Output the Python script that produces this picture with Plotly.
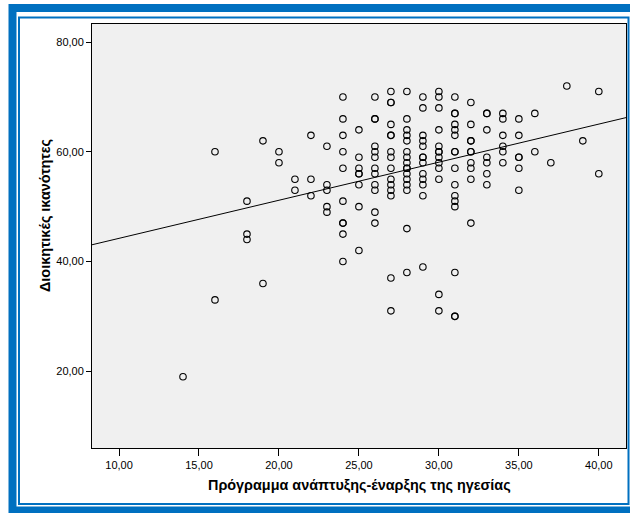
import numpy as np
import plotly.graph_objects as go

# ---- data ----
leadership_x = (
    [14] + [16]*2 + [18]*3 + [19]*2 + [20]*2 + [21]*2 + [22]*3 + [23]*5 +
    [24]*10 + [25]*8 + [26]*12 + [27]*15 + [28]*16 + [29]*13 + [30]*13 +
    [31]*16 + [32]*10 + [33]*7 + [34]*6 + [35]*6 + [36]*2 + [37] + [38] + [39] + [40]*2
)
management_y = (
    [19] +
    [60, 33] +
    [51, 45, 44] +
    [62, 36] +
    [60, 58] +
    [55, 53] +
    [63, 55, 52] +
    [61, 54, 53, 50, 49] +
    [70, 66, 63, 60, 57, 51, 47, 47, 45, 40] +
    [64, 59, 57, 56, 56, 54, 50, 42] +
    [70, 66, 66, 61, 60, 59, 57, 56, 54, 53, 49, 47] +
    [71, 69, 69, 65, 63, 63, 60, 59, 57, 55, 54, 53, 52, 37, 31] +
    [71, 66, 64, 63, 62, 60, 59, 58, 57, 57, 56, 55, 54, 53, 46, 38] +
    [70, 68, 63, 62, 61, 59, 59, 58, 56, 55, 54, 52, 39] +
    [71, 70, 68, 64, 61, 60, 60, 59, 58, 57, 55, 34, 31] +
    [70, 67, 67, 65, 64, 63, 60, 60, 57, 54, 52, 51, 50, 38, 30, 30] +
    [69, 65, 62, 62, 60, 60, 58, 57, 55, 47] +
    [67, 67, 64, 59, 58, 56, 54] +
    [67, 66, 63, 61, 60, 58] +
    [66, 63, 59, 59, 57, 53] +
    [67, 60] +
    [58] +
    [72] +
    [62] +
    [71, 56]
)
x_tick_vals = [10, 15, 20, 25, 30, 35, 40]
x_tick_text = ["10,00", "15,00", "20,00", "25,00", "30,00", "35,00", "40,00"]
y_tick_vals = [20, 40, 60, 80]
y_tick_text = ["20,00", "40,00", "60,00", "80,00"]
x_title = "Πρόγραμμα ανάπτυξης-έναρξης της ηγεσίας"
y_title = "Διοικητικές ικανότητες"

x_range = [8.31, 41.7]
y_range = [6.0, 83.3]

# linear fit
slope, intercept = np.polyfit(np.array(leadership_x, float), np.array(management_y, float), 1)
line_x = np.array(x_range)
line_y = intercept + slope * line_x

W, H = 630, 513
L, R, T, B = 92, 4, 24, 65
pw, ph = W - L - R, H - T - B

def px(xp):
    return (xp - L) / pw

def py(yp):
    return (H - B - yp) / ph

fig = go.Figure()
fig.add_trace(go.Scatter(
    x=line_x, y=line_y, mode="lines",
    line=dict(color="black", width=1), hoverinfo="skip", showlegend=False))
fig.add_trace(go.Scatter(
    x=leadership_x, y=management_y, mode="markers",
    marker=dict(symbol="circle-open", size=6.5, color="black", line=dict(width=1.1, color="black")),
    showlegend=False))

axis_font = dict(family="Liberation Sans, Arial, sans-serif", size=11, color="black")
fig.update_xaxes(range=x_range, tickvals=x_tick_vals, ticktext=x_tick_text,
                 ticks="outside", ticklen=7, tickwidth=1, tickcolor="black",
                 showline=True, linecolor="black", linewidth=1, mirror=True,
                 showgrid=False, zeroline=False, tickfont=axis_font)
fig.update_yaxes(range=y_range, tickvals=y_tick_vals, ticktext=y_tick_text,
                 ticks="outside", ticklen=5, tickwidth=1, tickcolor="black",
                 showline=True, linecolor="black", linewidth=1, mirror=True,
                 showgrid=False, zeroline=False, tickfont=axis_font)

title_font = dict(family="Liberation Sans, Arial, sans-serif", size=14.4, color="black")
annotations = [
    dict(text="<b>" + x_title + "</b>", xref="paper", yref="paper",
         x=px(359), y=py(485), xanchor="center", yanchor="middle",
         showarrow=False, font=title_font),
    dict(text="<b>" + y_title + "</b>", xref="paper", yref="paper",
         x=px(45), y=py(215), xanchor="center", yanchor="middle", textangle=-90,
         showarrow=False, font=title_font),
]

blue = "#0070C0"
shapes = [
    # thick outer frame
    dict(type="rect", xref="paper", yref="paper",
         x0=px(12.5), x1=px(640), y0=py(8), y1=py(510.5),
         line=dict(color=blue, width=8), fillcolor="rgba(0,0,0,0)", layer="above"),
    # thin inner frame
    dict(type="rect", xref="paper", yref="paper",
         x0=px(19), x1=px(628.5), y0=py(17.5), y1=py(504),
         line=dict(color=blue, width=2), fillcolor="rgba(0,0,0,0)", layer="above"),
]

fig.update_layout(
    width=W, height=H, margin=dict(l=L, r=R, t=T, b=B, pad=0),
    paper_bgcolor="white", plot_bgcolor="#F0F0F0",
    annotations=annotations, shapes=shapes, showlegend=False,
)
fig.write_html("out.html")
